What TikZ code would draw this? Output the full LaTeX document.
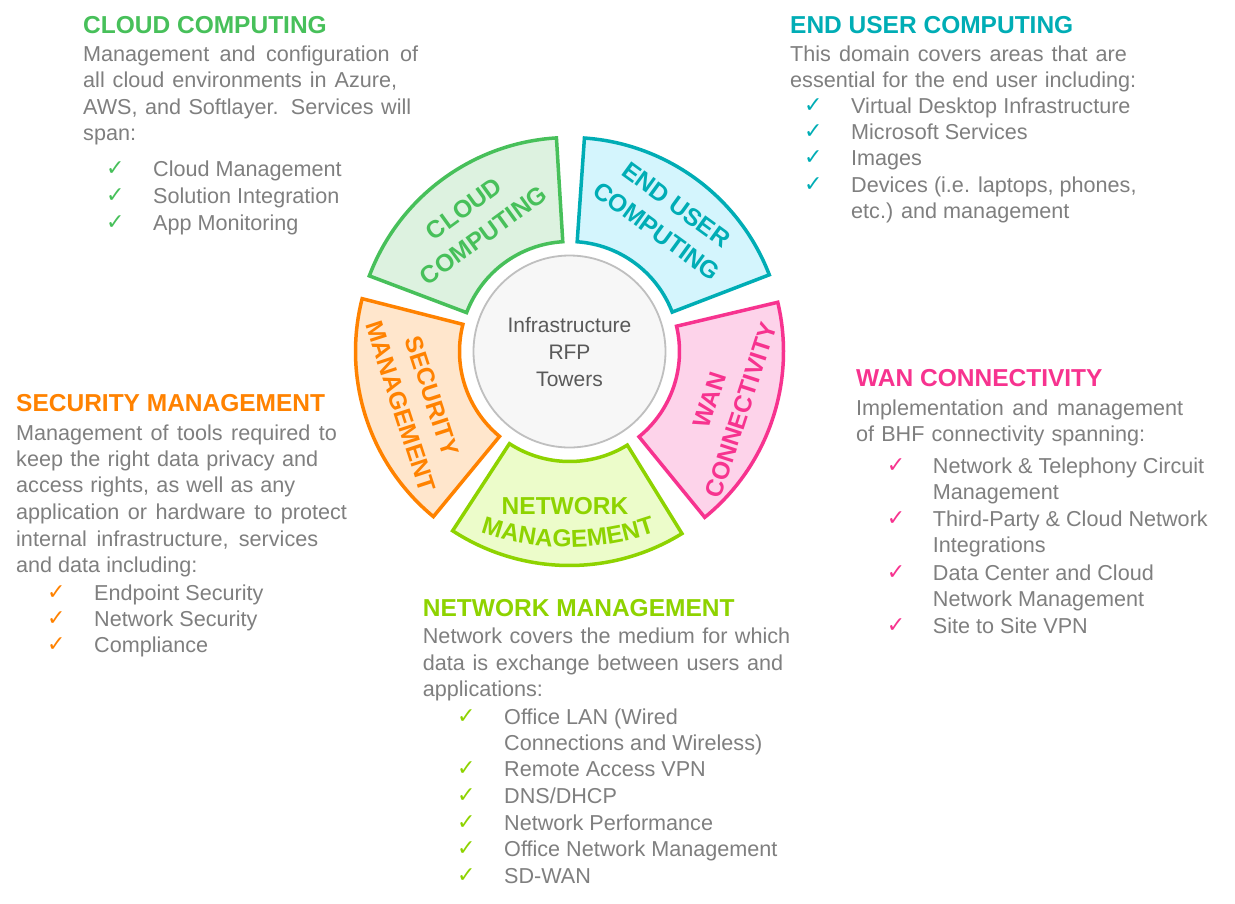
\documentclass[tikz,border=0pt]{standalone}
\usepackage{fontspec}
\setmainfont{Liberation Sans}
\newfontfamily\symfont{DejaVu Sans}
\usetikzlibrary{decorations.text}

\definecolor{ccGreen}{HTML}{47C05A}
\definecolor{ccFill}{HTML}{DDF2E0}
\definecolor{euTeal}{HTML}{00ADB5}
\definecolor{euFill}{HTML}{D4F5FD}
\definecolor{wanPink}{HTML}{F7338F}
\definecolor{wanFill}{HTML}{FDD3EA}
\definecolor{secOrange}{HTML}{FF8200}
\definecolor{secFill}{HTML}{FFE6CC}
\definecolor{netLime}{HTML}{8ED300}
\definecolor{netFill}{HTML}{ECFCCA}
\definecolor{bodyGray}{HTML}{7F7F7F}
\definecolor{hubGray}{HTML}{BFBFBF}
\definecolor{hubFill}{HTML}{F7F7F7}
\definecolor{hubText}{HTML}{595959}

\tikzset{
  bodytext/.style={anchor=base west, inner sep=0pt, text=bodyGray,
    font=\fontsize{21.6}{26.5}\selectfont},
  heading/.style={anchor=base west, inner sep=0pt,
    font=\fontsize{24.5}{29}\selectfont\bfseries},
  tickmark/.style={anchor=base west, inner sep=0pt,
    font=\symfont\fontsize{22}{22}\selectfont},
  seglabel/.style={align=center, inner sep=0pt,
    font=\fontsize{24.5}{33}\selectfont\bfseries},
  ringpart/.style={line width=3.5pt, line join=miter},
}

% one line of body text, natural spacing
\newcommand\bodyline[4]{\node[bodytext] (#1) at (#2,-#3) {#4};}
% one line of body text, justified up to a right edge
\newcommand\jline[5]{\node[bodytext] (#1) at (#2,-#3)
  {\makebox[\dimexpr #4pt-#2pt\relax][s]{#5}};}
% a tick mark in a given colour
\newcommand\tick[4]{\node[tickmark, text=#4] (#1) at (#2-1,-#3+1) {\char"2713};}
% a sector of the ring: start angle, end angle, line colour, fill colour
\newcommand\sector[4]{%
  \filldraw[ringpart, draw=#3, fill=#4]
    ([shift={(hub)}]#1:110) arc[start angle=#1, end angle=#2, radius=110]
    -- ([shift={(hub)}]#2:214) arc[start angle=#2, end angle=#1, radius=214]
    -- cycle;}

\begin{document}
\begin{tikzpicture}[x=1pt, y=1pt]
\fill[white] (0,0) rectangle (1235,-903);
\useasboundingbox (0,0) rectangle (1235,-903);

% hub
\node[circle, draw=hubGray, fill=hubFill, line width=1.8pt,
      minimum size=192pt, inner sep=0pt, align=center, text=hubText,
      font=\fontsize{21}{27}\selectfont] (hub) at (569.5,-351.5)
      {Infrastructure\\RFP\\Towers};

% ring sectors
\sector{93.5}{159.3}{ccGreen}{ccFill}
\sector{21}{86}{euTeal}{euFill}
\sector{-50.8}{13.3}{wanPink}{wanFill}
\sector{-123.1}{-58.3}{netLime}{netFill}
\sector{165.7}{230.5}{secOrange}{secFill}

% sector labels
\node[seglabel, text=ccGreen, rotate=36] (cclabel)
  at ([shift={(hub)}]126.5:161) {CLOUD\\COMPUTING};
\node[seglabel, text=euTeal, rotate=-36] (eulabel)
  at ([shift={(hub)}]54:165) {END USER\\COMPUTING};
\node[seglabel, text=wanPink, rotate=72] (wanlabel)
  at ([shift={(hub)}]-19:165) {WAN\\CONNECTIVITY};
\node[seglabel, text=secOrange, rotate=-72] (seclabel)
  at ([shift={(hub)}]198:161) {SECURITY\\MANAGEMENT};
\node[seglabel, text=netLime, anchor=base] (netlabel) at (565,-514) {NETWORK};
\path[decorate, decoration={text along path, text align=center,
   text={|\fontsize{24.5}{29}\selectfont\bfseries\color{netLime}|MANAGEMENT}}]
   (568,-282) ++(-120:265) arc[start angle=-120, end angle=-60, radius=265];

% Cloud computing
\node[heading, text=ccGreen] (cc0) at (83,-33.3) {CLOUD COMPUTING};
\jline{cc1}{83}{61.7}{418}{Management and configuration of}
\jline{cc2}{83}{87.7}{397}{all cloud environments in Azure,}
\jline{cc3}{83}{114.3}{411}{AWS, and Softlayer. Services will}
\bodyline{cc4}{83}{140}{span:}
\tick{cck1}{107}{176.7}{ccGreen}\bodyline{cci1}{153}{176.7}{Cloud Management}
\tick{cck2}{107}{203.3}{ccGreen}\bodyline{cci2}{153}{203.3}{Solution Integration}
\tick{cck3}{107}{230}{ccGreen}\bodyline{cci3}{153}{230}{App Monitoring}

% End user computing
\node[heading, text=euTeal] (eu0) at (790,-33.3) {END USER COMPUTING};
\jline{eu1}{790}{61}{1126.7}{This domain covers areas that are}
\jline{eu2}{790}{87.3}{1136}{essential for the end user including:}
\tick{euk1}{805}{113.3}{euTeal}\bodyline{eui1}{851}{113.3}{Virtual Desktop Infrastructure}
\tick{euk2}{805}{139.3}{euTeal}\bodyline{eui2}{851}{139.3}{Microsoft Services}
\tick{euk3}{805}{165.7}{euTeal}\bodyline{eui3}{851}{165.7}{Images}
\tick{euk4}{805}{192.7}{euTeal}\bodyline{eui4}{851}{192.7}{Devices (i.e. laptops, phones,}
\bodyline{eui5}{851}{218.3}{etc.) and management}

% Security management
\node[heading, text=secOrange] (sec0) at (16,-411.7) {SECURITY MANAGEMENT};
\jline{sec1}{16}{440}{336.7}{Management of tools required to}
\jline{sec2}{16}{466}{318}{keep the right data privacy and}
\jline{sec3}{16}{492.7}{295}{access rights, as well as any}
\jline{sec4}{16}{519}{346.7}{application or hardware to protect}
\jline{sec5}{16}{546.7}{318}{internal infrastructure, services}
\bodyline{sec6}{16}{572.7}{and data including:}
\tick{seck1}{48}{600}{secOrange}\bodyline{seci1}{94}{600}{Endpoint Security}
\tick{seck2}{48}{626.7}{secOrange}\bodyline{seci2}{94}{626.7}{Network Security}
\tick{seck3}{48}{652.7}{secOrange}\bodyline{seci3}{94}{652.7}{Compliance}

% WAN connectivity
\node[heading, text=wanPink] (wan0) at (856,-386.7) {WAN CONNECTIVITY};
\jline{wan1}{856}{415}{1183}{Implementation and management}
\jline{wan2}{856}{441}{1145}{of BHF connectivity spanning:}
\tick{wank1}{887.7}{473.3}{wanPink}\bodyline{wani1}{932.7}{473.3}{Network \& Telephony Circuit}
\bodyline{wani2}{932.7}{499.3}{Management}
\tick{wank2}{887.7}{526.7}{wanPink}\bodyline{wani3}{932.7}{526.7}{Third-Party \& Cloud Network}
\bodyline{wani4}{932.7}{552.7}{Integrations}
\tick{wank3}{887.7}{580}{wanPink}\bodyline{wani5}{932.7}{580}{Data Center and Cloud}
\bodyline{wani6}{932.7}{606}{Network Management}
\tick{wank4}{887.7}{633.3}{wanPink}\bodyline{wani7}{932.7}{633.3}{Site to Site VPN}

% Network management
\node[heading, text=netLime] (net0) at (422.7,-616) {NETWORK MANAGEMENT};
\jline{net1}{422.7}{643.3}{790}{Network covers the medium for which}
\jline{net2}{422.7}{670}{783}{data is exchange between users and}
\bodyline{net3}{422.7}{696}{applications:}
\tick{netk1}{458}{724}{netLime}\bodyline{neti1}{504}{724}{Office LAN (Wired}
\bodyline{neti2}{504}{750.7}{Connections and Wireless)}
\tick{netk2}{458}{776.7}{netLime}\bodyline{neti3}{504}{776.7}{Remote Access VPN}
\tick{netk3}{458}{803.3}{netLime}\bodyline{neti4}{504}{803.3}{DNS/DHCP}
\tick{netk4}{458}{830}{netLime}\bodyline{neti5}{504}{830}{Network Performance}
\tick{netk5}{458}{856.7}{netLime}\bodyline{neti6}{504}{856.7}{Office Network Management}
\tick{netk6}{458}{883.3}{netLime}\bodyline{neti7}{504}{883.3}{SD-WAN}
\end{tikzpicture}
\end{document}
